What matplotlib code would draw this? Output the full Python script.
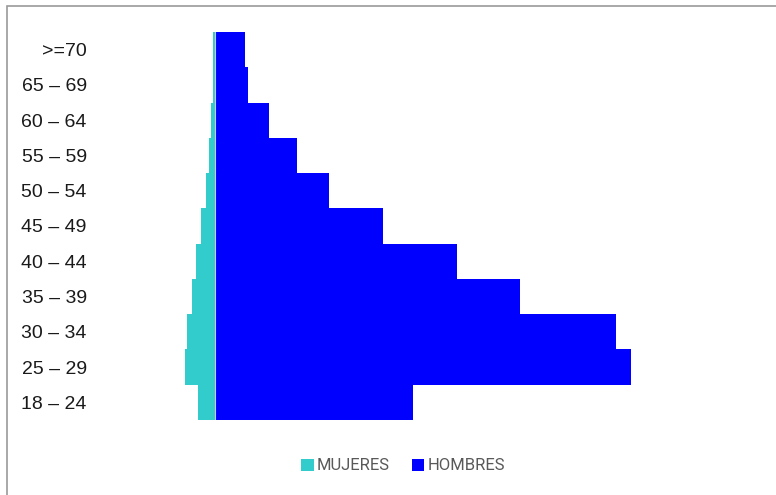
import matplotlib
matplotlib.use("Agg")
import matplotlib.pyplot as plt
from matplotlib.patches import Patch, Rectangle

categories = ["18 – 24", "25 – 29", "30 – 34", "35 – 39", "40 – 44", "45 – 49",
              "50 – 54", "55 – 59", "60 – 64", "65 – 69", ">=70"]
mujeres = [17.5, 30, 28.5, 23.5, 19, 14, 9, 5.7, 4, 2.3, 2.3]
hombres = [198, 416, 401, 305, 242, 168, 114, 82, 54, 33, 30]

W, H = 776, 495
fig = plt.figure(figsize=(W / 100, H / 100), dpi=100)

# outer border
fig.patches.append(Rectangle((7 / W, -0.1), 1.2, 1 - 6 / H + 0.1, transform=fig.transFigure,
                             fill=False, edgecolor="#9a9a9a", linewidth=1.2))

left, right, top, bottom = 95, 760, 32, 420
ax = fig.add_axes([left / W, 1 - bottom / H, (right - left) / W, (bottom - top) / H])

y = list(range(len(categories)))
ax.barh(y, [-m for m in mujeres], height=1.0, color="#33CCCC", linewidth=0)
ax.barh(y, hombres, height=1.0, color="#0000FF", linewidth=0)
ax.axvline(0, color="#c8c8e8", linewidth=0.8, ymin=0, ymax=1)

ax.set_xlim(-(215 - left), right - 215)
ax.set_ylim(-0.5, len(categories) - 0.5)
ax.set_yticks(y)
ax.set_yticklabels(categories, fontsize=14, family="Liberation Sans", color="#1a1a1a")
ax.tick_params(axis="y", length=0, pad=6)
ax.set_xticks([])
for s in ax.spines.values():
    s.set_visible(False)

handles = [Patch(facecolor="#33CCCC", label="MUJERES"), Patch(facecolor="#0000FF", label="HOMBRES")]
fig.legend(handles=handles, loc="center", bbox_to_anchor=(403 / W, 1 - 466 / H), ncol=2,
           frameon=False, handlelength=0.75, handleheight=0.75, handletextpad=0.2,
           columnspacing=1.3, prop={"family": "Roboto", "size": 12}, labelcolor="#595959")

fig.savefig("out.png", dpi=100)
